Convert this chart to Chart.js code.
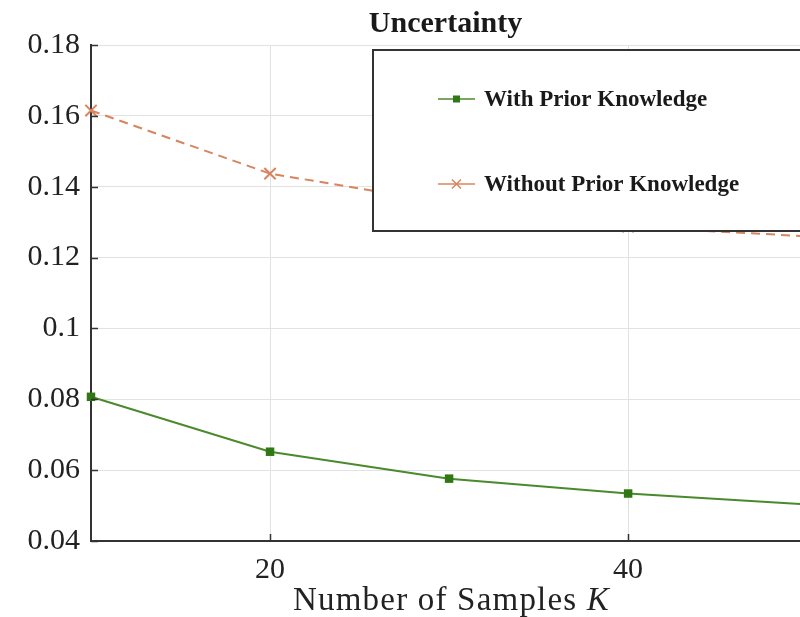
<!DOCTYPE html>
<html>
<head>
<meta charset="utf-8">
<script src="https://cdn.jsdelivr.net/npm/chart.js@4"></script>
<style>
  html, body { margin: 0; padding: 0; background: #fff; overflow: hidden; }
  #wrap { position: relative; width: 800px; height: 617px; }
</style>
</head>
<body>
<div id="wrap"><canvas id="chart"></canvas></div>
<script>
const FONT = '"Liberation Serif", "Times New Roman", serif';

// Data
const samplesK      = [10, 20, 30, 40, 50];
const withPrior     = [0.0807, 0.0652, 0.0576, 0.0534, 0.0503];
const withoutPrior  = [0.1615, 0.1437, 0.1353, 0.1287, 0.1260];
const xTicks        = [20, 40];
const seriesLabels  = ['With Prior Knowledge', 'Without Prior Knowledge'];

const GREEN_LINE = '#4a8a2c';
const GREEN_MARK = '#2f7814';
const ORANGE     = '#d8845e';
const AXIS       = '#333';

const toPoints = vals => vals.map((v, i) => ({ x: samplesK[i], y: v }));

// Tick marks pointing into the plot
const innerTicks = {
    id: 'innerTicks',
    afterDatasetsDraw(chart) {
        const { ctx, chartArea, scales } = chart;
        ctx.save();
        ctx.strokeStyle = AXIS;
        ctx.lineWidth = 1.5;
        ctx.beginPath();
        scales.x.ticks.forEach(t => {
            const px = Math.round(scales.x.getPixelForValue(t.value)) + 0.5;
            ctx.moveTo(px, chartArea.bottom);
            ctx.lineTo(px, chartArea.bottom - 7);
        });
        scales.y.ticks.forEach(t => {
            const py = Math.round(scales.y.getPixelForValue(t.value)) + 0.5;
            ctx.moveTo(chartArea.left, py);
            ctx.lineTo(chartArea.left + 7, py);
        });
        ctx.stroke();
        ctx.restore();
    },
};

// Boxed legend drawn over the plot, like the original figure
const boxLegend = {
    id: 'boxLegend',
    afterDatasetsDraw(chart) {
        const { ctx, chartArea } = chart;
        const left = chartArea.left + 282;
        const top  = chartArea.top + 5;
        const h    = 181;
        ctx.save();
        ctx.fillStyle = '#fff';
        ctx.fillRect(left, top, 500, h);
        ctx.strokeStyle = AXIS;
        ctx.lineWidth = 2;
        ctx.strokeRect(left, top, 500, h);

        const rows = [top + 49, top + 134];
        chart.data.datasets.forEach((ds, i) => {
            const y = rows[i];
            const x0 = left + 65, x1 = left + 102, xm = (x0 + x1) / 2;
            ctx.strokeStyle = ds.borderColor;
            ctx.lineWidth = 1.5;
            ctx.beginPath();
            ctx.moveTo(x0, y); ctx.lineTo(x1, y);
            ctx.stroke();
            ctx.fillStyle = ds.pointBackgroundColor;
            ctx.strokeStyle = ds.pointBorderColor;
            if (ds.pointStyle === 'rect') {
                ctx.fillRect(xm - 3.5, y - 3.5, 7, 7);
            } else {
                ctx.beginPath();
                ctx.moveTo(xm - 4.5, y - 4.5); ctx.lineTo(xm + 4.5, y + 4.5);
                ctx.moveTo(xm + 4.5, y - 4.5); ctx.lineTo(xm - 4.5, y + 4.5);
                ctx.stroke();
            }
            ctx.fillStyle = '#1a1a1a';
            ctx.font = 'bold 23px ' + FONT;
            ctx.textBaseline = 'middle';
            ctx.textAlign = 'left';
            ctx.fillText(ds.label, left + 111, y + 1);
        });
        ctx.restore();
    },
};

// x-axis title with an italic K
const xAxisTitle = {
    id: 'xAxisTitle',
    afterDraw(chart) {
        const { ctx, chartArea } = chart;
        const main = 'Number of Samples ';
        ctx.save();
        ctx.fillStyle = '#222';
        ctx.textBaseline = 'alphabetic';
        ctx.letterSpacing = '1.2px';
        ctx.font = '33px ' + FONT;
        const w1 = ctx.measureText(main).width;
        ctx.font = 'italic 33px ' + FONT;
        const w2 = ctx.measureText('K').width;
        const x = (chartArea.left + chartArea.right) / 2 + 6 - (w1 + w2) / 2;
        const y = 610;
        ctx.font = '33px ' + FONT;
        ctx.fillText(main, x, y);
        ctx.font = 'italic 33px ' + FONT;
        ctx.fillText('K', x + w1, y);
        ctx.restore();
    },
};

new Chart(document.getElementById('chart'), {
    type: 'line',
    data: {
        datasets: [
            {
                label: seriesLabels[0],
                data: toPoints(withPrior),
                borderColor: GREEN_LINE,
                borderWidth: 2,
                pointStyle: 'rect',
                pointRadius: 6,
                pointBackgroundColor: GREEN_MARK,
                pointBorderColor: GREEN_MARK,
                pointBorderWidth: 0,
                tension: 0,
                clip: 10,
            },
            {
                label: seriesLabels[1],
                data: toPoints(withoutPrior),
                borderColor: ORANGE,
                borderWidth: 2,
                borderDash: [9, 6],
                pointStyle: 'crossRot',
                pointRadius: 8,
                pointBorderWidth: 2,
                pointBackgroundColor: ORANGE,
                pointBorderColor: ORANGE,
                tension: 0,
                clip: 10,
            },
        ],
    },
    options: {
        responsive: true,
        maintainAspectRatio: false,
        animation: false,
        layout: { padding: 0, autoPadding: false },
        scales: {
            x: {
                type: 'linear',
                min: 10,
                max: 49.6,
                afterBuildTicks: s => { s.ticks = xTicks.map(v => ({ value: v })); },
                afterFit: s => { s.height = 76; },
                grid: { color: '#e2e2e2', lineWidth: 1, drawTicks: false },
                border: { color: AXIS, width: 2 },
                ticks: {
                    color: '#222',
                    font: { family: FONT, size: 30 },
                    padding: 11,
                    maxRotation: 0,
                },
            },
            y: {
                min: 0.04,
                max: 0.18,
                afterFit: s => { s.width = 91; },
                grid: { color: '#e2e2e2', lineWidth: 1, drawTicks: false },
                border: { color: AXIS, width: 2 },
                ticks: {
                    stepSize: 0.02,
                    color: '#222',
                    font: { family: FONT, size: 30 },
                    padding: 11,
                    callback: v => String(+v.toFixed(2)),
                },
            },
        },
        plugins: {
            legend: { display: false },
            tooltip: { enabled: false },
            title: {
                display: true,
                text: 'Uncertainty',
                fullSize: false,
                color: '#1a1a1a',
                font: { family: FONT, size: 30, weight: 'bold' },
                padding: { top: 6, bottom: 3 },
            },
        },
    },
    plugins: [innerTicks, boxLegend, xAxisTitle],
});
</script>
</body>
</html>
